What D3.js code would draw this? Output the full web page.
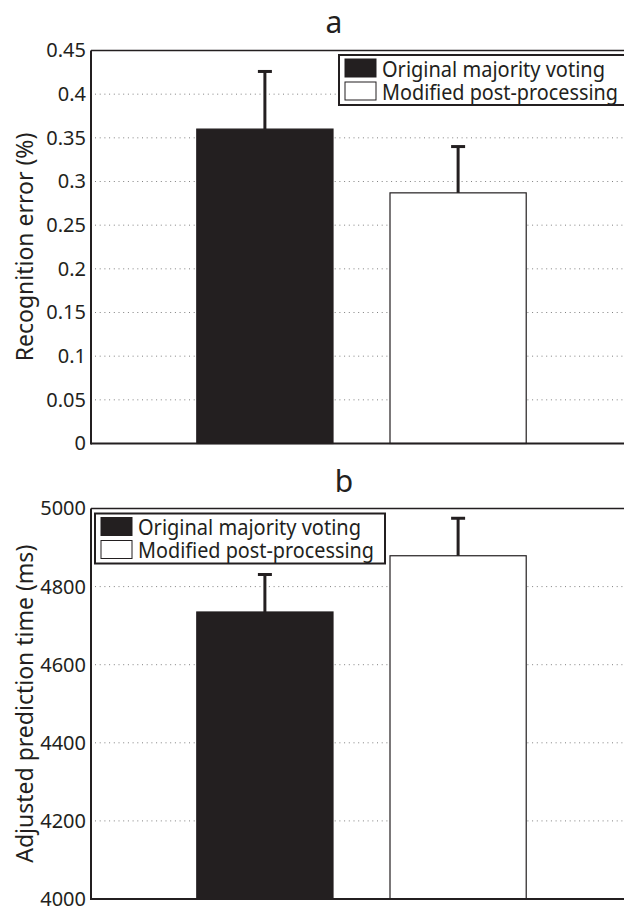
<!DOCTYPE html>
<html>
<head>
<meta charset="utf-8">
<script src="https://cdn.jsdelivr.net/npm/d3@7"></script>
<style>
  body { margin: 0; background: #fff; }
  svg { display: block; font-family: "Noto Sans", sans-serif; }
</style>
</head>
<body>
<svg id="chart" width="624" height="906"></svg>
<script>
const series = ["Original majority voting", "Modified post-processing"];
const seriesColors = ["#231f20", "#ffffff"];

// panel a: recognition error
const errorMeans = [0.360, 0.287];
const errorUpper = [0.426, 0.340];
const errorTicks = [0, 0.05, 0.1, 0.15, 0.2, 0.25, 0.3, 0.35, 0.4, 0.45];

// panel b: adjusted prediction time
const timeMeans = [4735, 4879];
const timeUpper = [4831, 4975];
const timeTicks = [4000, 4200, 4400, 4600, 4800, 5000];

const svg = d3.select("#chart");

const panels = [
  {
    title: "a", titleX: 334, titleY: 32.5,
    label: "Recognition error (%)",
    means: errorMeans, upper: errorUpper, ticks: errorTicks,
    domain: [0, 0.45], range: [443.5, 50.5],
    fmt: d => d === 0 ? "0" : String(d),
    legend: { x: 339, y: 55, w: 300, h: 50 }
  },
  {
    title: "b", titleX: 344, titleY: 491.5,
    label: "Adjusted prediction time (ms)",
    means: timeMeans, upper: timeUpper, ticks: timeTicks,
    domain: [4000, 5000], range: [899, 508.5],
    fmt: d => String(d),
    legend: { x: 95, y: 513.5, w: 290, h: 50 }
  }
];

const x = d3.scaleLinear().domain([0.1, 2.9]).range([91, 632]);
const barWidth = 0.705;
const legendWidths = [223, 236];  // text widths in the original figure

panels.forEach(p => {
  const y = d3.scaleLinear().domain(p.domain).range(p.range);
  const g = svg.append("g");

  // dotted grid
  g.selectAll("line.grid")
    .data(p.ticks.slice(1, -1))
    .join("line")
    .attr("x1", x.range()[0] + 4)
    .attr("x2", x.range()[1])
    .attr("y1", d => y(d))
    .attr("y2", d => y(d))
    .attr("stroke", "#808080")
    .attr("stroke-width", 1)
    .attr("stroke-dasharray", "1,3.7");

  // bars
  g.selectAll("rect.bar")
    .data(p.means)
    .join("rect")
    .attr("x", (d, i) => x(i + 1 - barWidth / 2))
    .attr("width", x(1 + barWidth) - x(1))
    .attr("y", d => y(d))
    .attr("height", d => y(p.domain[0]) - y(d))
    .attr("fill", (d, i) => seriesColors[i])
    .attr("stroke", "#231f20")
    .attr("stroke-width", 1.2);

  // error bars (upper only)
  p.upper.forEach((u, i) => {
    g.append("line")
      .attr("x1", x(i + 1)).attr("x2", x(i + 1))
      .attr("y1", y(p.means[i])).attr("y2", y(u))
      .attr("stroke", "#231f20").attr("stroke-width", 3);
    g.append("line")
      .attr("x1", x(i + 1) - 7).attr("x2", x(i + 1) + 7)
      .attr("y1", y(u)).attr("y2", y(u))
      .attr("stroke", "#231f20").attr("stroke-width", 3);
  });

  // frame
  g.append("line")
    .attr("x1", x.range()[0]).attr("x2", x.range()[1])
    .attr("y1", y.range()[1]).attr("y2", y.range()[1])
    .attr("stroke", "#231f20").attr("stroke-width", 1.5);
  g.append("line")
    .attr("x1", x.range()[0]).attr("x2", x.range()[1])
    .attr("y1", y.range()[0]).attr("y2", y.range()[0])
    .attr("stroke", "#231f20").attr("stroke-width", 2);
  g.append("line")
    .attr("x1", x.range()[0]).attr("x2", x.range()[0])
    .attr("y1", y.range()[0] + 1).attr("y2", y.range()[1])
    .attr("stroke", "#231f20").attr("stroke-width", 2);

  // y tick labels
  const axis = d3.axisLeft(y).tickValues(p.ticks).tickFormat(p.fmt).tickSize(0).tickPadding(4);
  const ax = g.append("g").attr("transform", `translate(${x.range()[0] - 1},0)`).call(axis);
  ax.select(".domain").remove();
  ax.selectAll("text")
    .attr("font-size", 20)
    .attr("fill", "#231f20")
    .attr("font-family", "Noto Sans, sans-serif");

  // y label
  const mid = (y.range()[0] + y.range()[1]) / 2;
  g.append("text")
    .attr("transform", `translate(33,${mid}) rotate(-90)`)
    .attr("text-anchor", "middle")
    .attr("font-size", 23)
    .attr("fill", "#231f20")
    .text(p.label);

  // title
  g.append("text")
    .attr("x", p.titleX).attr("y", p.titleY)
    .attr("text-anchor", "middle")
    .attr("font-size", 30)
    .attr("fill", "#231f20")
    .text(p.title);

  // legend
  const L = p.legend;
  const lg = g.append("g").attr("transform", `translate(${L.x},${L.y})`);
  lg.append("rect")
    .attr("width", L.w).attr("height", L.h)
    .attr("fill", "#fff").attr("stroke", "#231f20").attr("stroke-width", 2);
  series.forEach((s, i) => {
    lg.append("rect")
      .attr("x", 6).attr("y", 4 + i * 23)
      .attr("width", 31).attr("height", 18)
      .attr("fill", seriesColors[i])
      .attr("stroke", "#231f20").attr("stroke-width", 1);
    lg.append("text")
      .attr("x", 43).attr("y", 21.5 + i * 23)
      .attr("font-size", 21.5)
      .attr("textLength", legendWidths[i])
      .attr("lengthAdjust", "spacingAndGlyphs")
      .attr("fill", "#231f20")
      .text(s);
  });
});
</script>
</body>
</html>
